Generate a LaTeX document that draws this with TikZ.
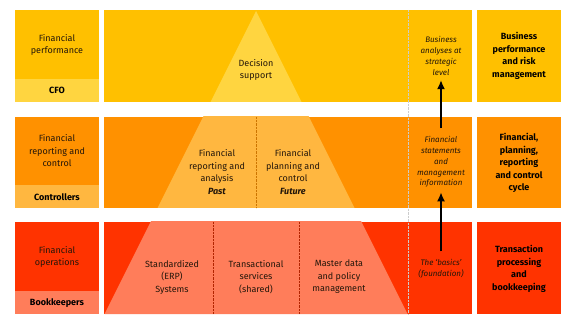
\documentclass[tikz,border=0pt]{standalone}
\usepackage{fontspec}
\setmainfont{Fira Sans}
\usetikzlibrary{arrows.meta}
\definecolor{yellowM}{RGB}{255,192,0}
\definecolor{yellowL}{RGB}{255,213,64}
\definecolor{orangeM}{RGB}{255,145,0}
\definecolor{orangeL}{RGB}{255,183,64}
\definecolor{redM}{RGB}{255,51,0}
\definecolor{redL}{RGB}{255,125,90}
\definecolor{ink}{RGB}{35,22,10}
\begin{document}
\begin{tikzpicture}[x=1pt,y=-1pt,
	txt/.style={align=center,inner sep=2pt,text=ink,font=\fontsize{9}{12.5}\selectfont},
	head/.style={align=center,inner sep=2pt,font=\fontsize{9}{12.5}\selectfont\bfseries},
	note/.style={align=center,inner sep=1pt,text=ink,font=\fontsize{8}{10.8}\selectfont\itshape},
	flow/.style={line width=2pt,-{Latex[length=9pt,width=8pt]},shorten <=7pt,shorten >=3.5pt}]
	\useasboundingbox[fill=white] (0,0) rectangle (580,328);
	% the three layers
	\foreach \t/\b/\m/\l in {10/102/yellowM/yellowL,117/208/orangeM/orangeL,222/314/redM/redL} {
		\fill[\m] (15,\t) rectangle (99,\b);
		\fill[\l] (15,\b-23) rectangle (99,\b);
		\fill[\m] (104,\t) rectangle (472,\b);
		\fill[\m] (477,\t) rectangle (561,\b);
		\begin{scope}
			\clip (104,\t) rectangle (472,\b);
			\fill[\l] (256,11) -- (104.5,314) -- (407.5,314) -- cycle;
		\end{scope}
	}
	\draw[orangeM!80!black,densely dotted] (256,117) -- (256,208);
	\foreach \x in {213,299} \draw[redM!70!black,densely dotted] (\x,222) -- (\x,314);
	\draw[black!20,densely dotted] (408,10) -- (408,314);
	% left column
	\node[txt] (perf) at (57,45) {Financial\\performance};
	\node[head] (cfo) at (57,90) {CFO};
	\node[txt] (reporting) at (57,151) {Financial\\reporting and\\control};
	\node[head] (controllers) at (57,197) {Controllers};
	\node[txt] (operations) at (57,257) {Financial\\operations};
	\node[head] (bookkeepers) at (57,303) {Bookkeepers};
	% pyramid
	\node[txt] (decision) at (256,70) {Decision\\support};
	\node[txt] (past) at (217,172) {Financial\\reporting and\\analysis\\\textbf{\itshape Past}};
	\node[txt] (future) at (293,172) {Financial\\planning and\\control\\\textbf{\itshape Future}};
	\node[txt] (erp) at (172,277) {Standardized\\(ERP)\\Systems};
	\node[txt] (transact) at (256,277) {Transactional\\services\\(shared)};
	\node[txt] (master) at (339,277) {Master data\\and policy\\management};
	% information levels
	\node[note] (analyses) at (441,56) {Business\\analyses at\\strategic\\level};
	\node[note] (statements) at (441,162) {Financial\\statements\\and\\management\\information};
	\node[note] (basics) at (441,269) {The `basics'\\(foundation)};
	\draw[flow] (basics.north) -- (statements.south);
	\draw[flow] (statements.north) -- (analyses.south);
	% right column
	\node[head] (bizperf) at (519,56) {Business\\performance\\and risk\\management};
	\node[head] (cycle) at (519,163) {Financial,\\planning,\\reporting\\and control\\cycle};
	\node[head] (txn) at (519,269) {Transaction\\processing\\and\\bookkeeping};
\end{tikzpicture}
\end{document}
